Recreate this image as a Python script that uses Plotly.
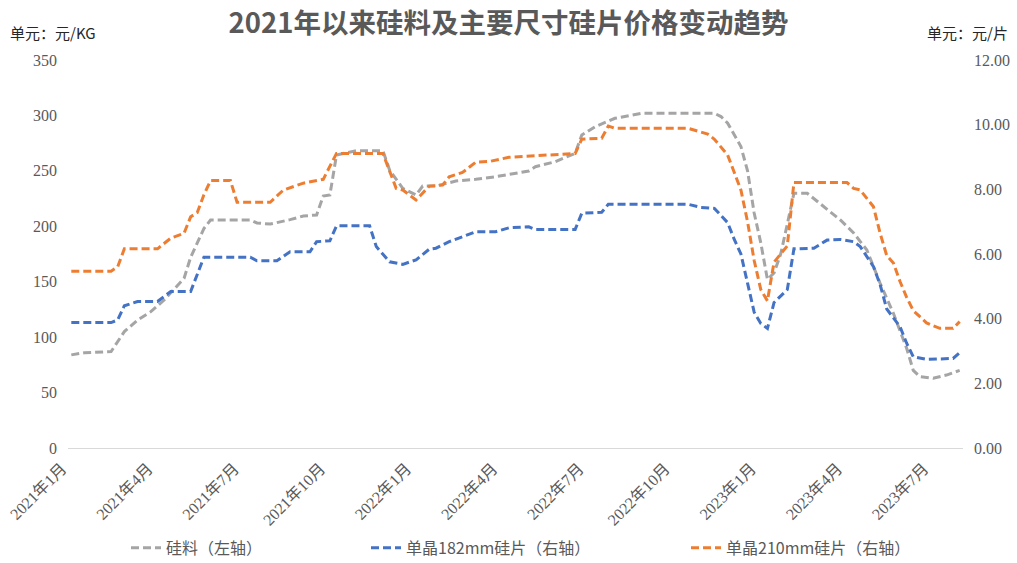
import plotly.graph_objects as go

# --- 数据（按周序号取拐点，周1 = 2021年1月第一周）---
# 硅料（左轴，元/KG）
SILICON_WEEK = [1, 3, 7, 9, 11, 13, 15, 17, 18, 19, 21, 22, 28, 29, 31, 34, 36, 38, 39, 40,
                41, 44, 48, 49, 51, 53, 54, 56, 59, 62, 65, 70, 71, 74, 77, 78, 80, 83, 87, 98,
                99, 100, 101, 102, 103, 104, 105, 106, 107, 108, 109, 110, 112, 113, 117, 119, 121, 123, 125, 127,
                128, 129, 131, 133, 135]
SILICON_PRICE = [84, 86, 87, 105, 115.5, 123, 133.5, 146, 153, 172, 198, 205.7, 205.7, 203, 202, 206, 209.3, 210.2, 227.3, 228.2,
                 264.3, 268.2, 268.2, 250.8, 234.3, 228.2, 236.3, 236.3, 240.8, 242.4, 244.7, 249.9, 253.7, 258.3, 265.8, 282.3, 289.8, 297.4, 301.9, 301.9,
                 299, 293, 283, 272, 250, 212, 185, 152, 158, 175, 202, 229.8, 229.8, 225, 205.7, 194, 178.6, 148.6, 121.5, 90,
                 70, 64.3, 62.9, 65.8, 70]

# 单晶182mm硅片（右轴，元/片）
W182_WEEK = [1, 7, 8, 9, 11, 14, 16, 19, 21, 28, 29, 32, 34, 37, 38, 40, 41, 46, 47, 49,
             51, 53, 55, 56, 58, 60, 62, 65, 67, 70, 71, 77, 78, 81, 82, 94, 96, 98, 100, 101,
             102, 103, 104, 105, 106, 107, 108, 109, 110, 113, 115, 117, 119, 120, 122, 123, 124, 126, 127, 128,
             130, 134, 135]
W182_PRICE = [3.88, 3.88, 3.96, 4.40, 4.53, 4.53, 4.84, 4.84, 5.90, 5.90, 5.79, 5.79, 6.07, 6.07, 6.38, 6.41, 6.87, 6.87, 6.23, 5.76,
              5.68, 5.82, 6.15, 6.18, 6.38, 6.54, 6.69, 6.69, 6.81, 6.84, 6.76, 6.76, 7.26, 7.29, 7.54, 7.54, 7.44, 7.41, 6.97, 6.45,
              6.0, 5.1, 4.2, 3.85, 3.70, 4.5, 4.7, 4.9, 6.16, 6.18, 6.43, 6.45, 6.38, 6.23, 5.61, 5.05, 4.3, 3.75, 3.24, 2.82,
              2.74, 2.77, 2.95]

# 单晶210mm硅片（右轴，元/片）
W210_WEEK = [1, 7, 8, 9, 14, 15, 16, 18, 19, 20, 21, 22, 25, 26, 31, 33, 36, 39, 41, 48,
             50, 51, 53, 55, 57, 58, 60, 62, 64, 67, 70, 77, 78, 81, 82, 83, 94, 97, 98, 100,
             102, 103, 104, 105, 106, 107, 108, 109, 110, 118, 119, 120, 122, 123, 124, 125, 126, 127, 128, 130,
             131, 132, 134, 135]
W210_PRICE = [5.47, 5.47, 5.61, 6.16, 6.16, 6.33, 6.49, 6.64, 7.15, 7.28, 7.83, 8.27, 8.27, 7.60, 7.60, 7.98, 8.19, 8.31, 9.11, 9.11,
              8.03, 7.98, 7.67, 8.10, 8.13, 8.39, 8.52, 8.84, 8.86, 8.99, 9.03, 9.11, 9.55, 9.58, 9.96, 9.89, 9.89, 9.71, 9.55, 9.06,
              7.98, 7.0, 5.8, 4.9, 4.55, 5.75, 6.0, 6.25, 8.21, 8.21, 8.03, 7.98, 7.46, 6.64, 5.95, 5.72, 5.15, 4.66, 4.25, 3.87,
              3.78, 3.70, 3.70, 3.91]

# 横轴刻度（每13周一个季度）
TICK_WEEK = [0.5, 13.5, 26.5, 39.5, 52.5, 65.5, 78.5, 91.5, 104.5, 117.5, 130.5]
TICK_TEXT = ['2021年1月', '2021年4月', '2021年7月', '2021年10月', '2022年1月', '2022年4月',
             '2022年7月', '2022年10月', '2023年1月', '2023年4月', '2023年7月']

GRAY = '#A5A5A5'
BLUE = '#4472C4'
ORANGE = '#ED7D31'
TEXT = '#595959'
CJK = 'Noto Sans CJK SC'
NUM = 'Liberation Serif, Noto Sans CJK SC'

fig = go.Figure()

fig.add_trace(go.Scatter(
    x=SILICON_WEEK, y=SILICON_PRICE, name='硅料（左轴）', mode='lines', showlegend=True,
    line=dict(color=GRAY, width=3, dash='8px,4px'), yaxis='y', legend='legend'))
fig.add_trace(go.Scatter(
    x=W182_WEEK, y=W182_PRICE, name='单晶182mm硅片（右轴）', mode='lines', showlegend=True,
    line=dict(color=BLUE, width=3, dash='8px,4px'), yaxis='y2', legend='legend2'))
fig.add_trace(go.Scatter(
    x=W210_WEEK, y=W210_PRICE, name='单晶210mm硅片（右轴）', mode='lines', showlegend=True,
    line=dict(color=ORANGE, width=3, dash='8px,4px'), yaxis='y2', legend='legend3'))

legend_common = dict(orientation='h', xref='container', yref='container', y=0.027,
                     yanchor='middle', xanchor='left', bgcolor='rgba(0,0,0,0)',
                     font=dict(family=CJK, size=16, color=TEXT))

fig.update_layout(
    width=1017, height=563,
    showlegend=True,
    margin=dict(l=68, r=54, t=60, b=115),
    paper_bgcolor='white', plot_bgcolor='white',
    title=dict(text='2021年以来硅料及主要尺寸硅片价格变动趋势', x=0.5, xref='container',
               y=0.958, yref='container', xanchor='center', yanchor='middle',
               font=dict(family=CJK, size=27.5, color=TEXT, weight='bold')),
    xaxis=dict(range=[0.5, 135.5], tickmode='array', tickvals=TICK_WEEK, ticktext=TICK_TEXT,
               tickangle=-45, showgrid=False, zeroline=False, showline=True, automargin=False,
               linecolor='#D9D9D9', linewidth=1, ticks='', ticklabelshift=-6, ticklabelstandoff=4,
               tickfont=dict(family=NUM, size=16, color=TEXT)),
    yaxis=dict(range=[0, 350], dtick=50, showgrid=False, zeroline=False, ticks='', automargin=False,
               ticklabelstandoff=10, tickfont=dict(family=NUM, size=16, color=TEXT)),
    yaxis2=dict(range=[0, 12], dtick=2, tickformat='.2f', overlaying='y', side='right',
                showgrid=False, zeroline=False, ticks='', ticklabelstandoff=10, automargin=False,
                tickfont=dict(family=NUM, size=16, color=TEXT)),
    legend=dict(x=126 / 1017, **legend_common),
    legend2=dict(x=366 / 1017, **legend_common),
    legend3=dict(x=686 / 1017, **legend_common),
    annotations=[
        dict(text='单元：元/KG', xref='paper', yref='paper', x=(8 - 68) / 895, y=(448 - 32) / 388,
             xanchor='left', yanchor='middle', showarrow=False,
             font=dict(family=CJK, size=15, color='#262626')),
        dict(text='单元：元/片', xref='paper', yref='paper', x=(1010 - 68) / 895, y=(448 - 32) / 388,
             xanchor='right', yanchor='middle', showarrow=False,
             font=dict(family=CJK, size=15, color='#262626')),
    ],
)

# 去掉页面默认边距，使图表贴齐窗口；隐藏工具栏
fig.write_html('out.html', config={'displayModeBar': False},
               post_script="document.body.style.margin='0';")
